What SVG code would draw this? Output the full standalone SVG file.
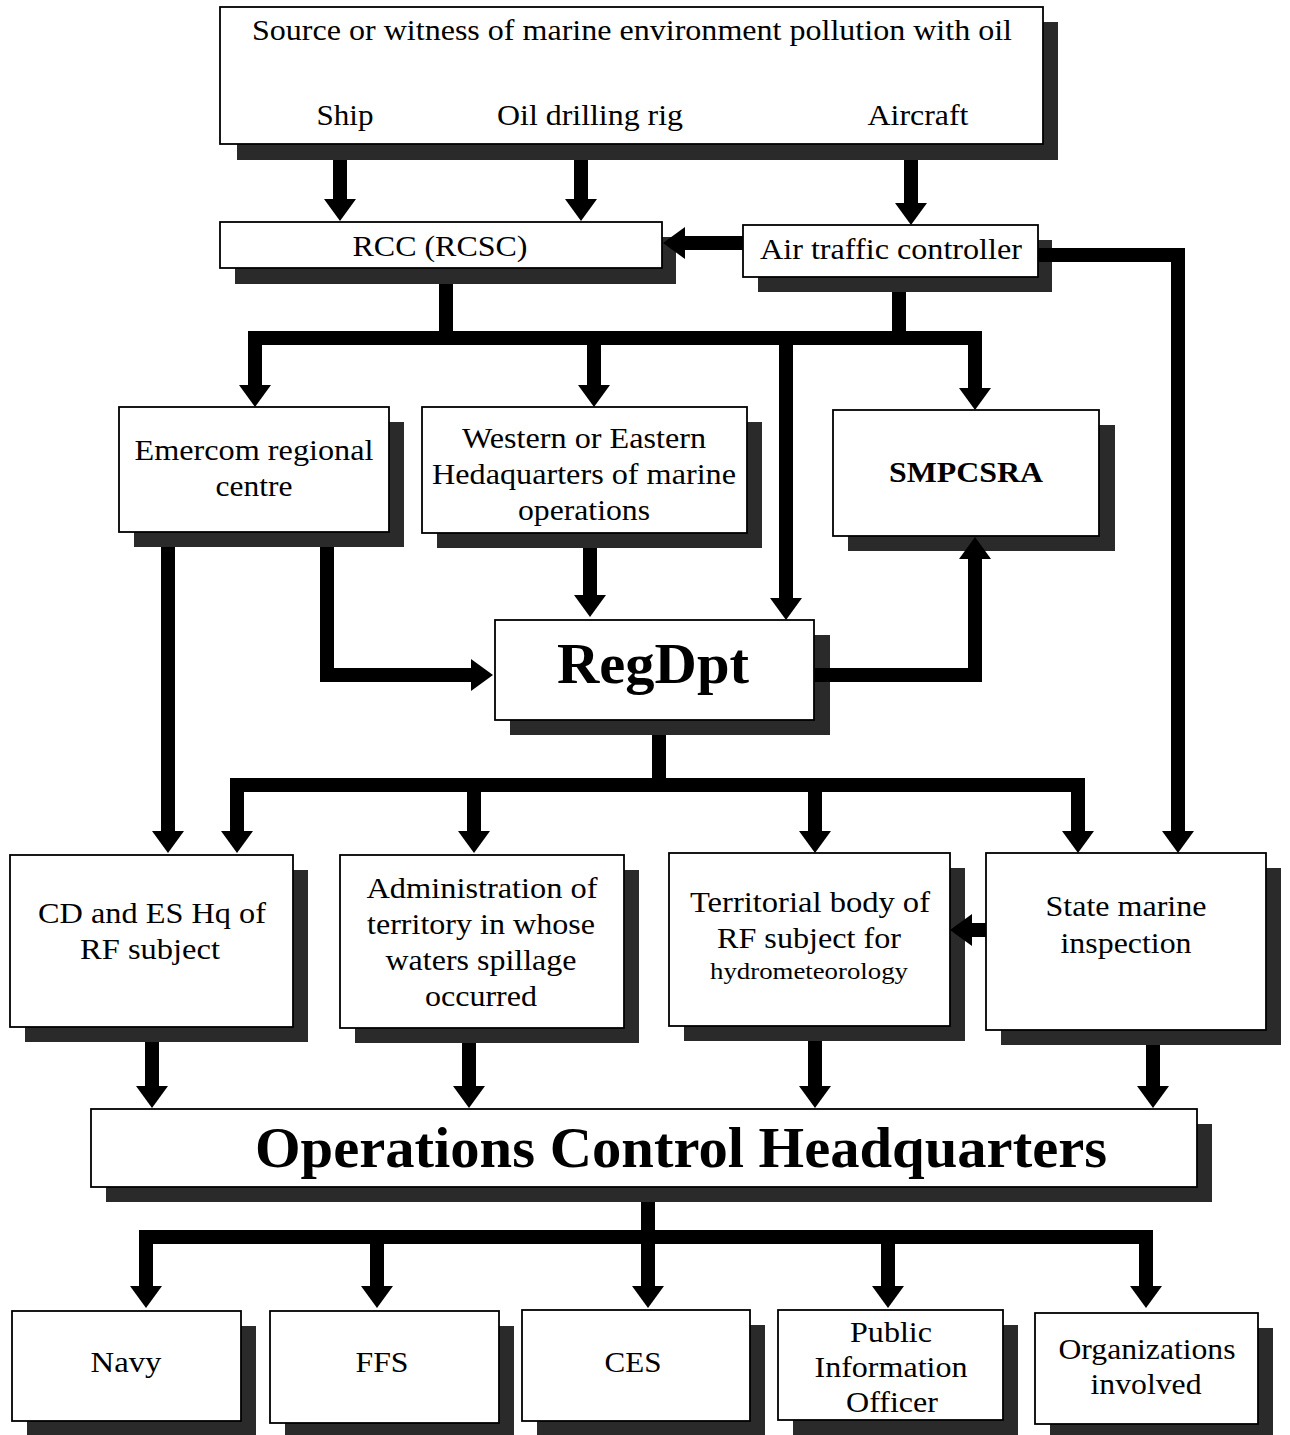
<svg xmlns="http://www.w3.org/2000/svg" width="1290" height="1435" viewBox="0 0 1290 1435">
<defs>
<style>
.sh{fill:#2a2a2a}
.bx{fill:#fff;stroke:#000;stroke-width:1.8}
.t{font-family:"Liberation Serif","Times New Roman",serif;font-size:29px;fill:#000;text-anchor:middle}
.b{font-weight:bold}
.c{fill:none;stroke:#000;stroke-width:14;stroke-linejoin:miter}
.a{marker-end:url(#ah)}
</style>
<marker id="ah" viewBox="0 0 22 32" markerWidth="22" markerHeight="32" refX="0" refY="16" orient="auto" markerUnits="userSpaceOnUse">
<path d="M0,0 L22,16 L0,32 Z" fill="#000"/>
</marker>
</defs>
<rect width="1290" height="1435" fill="#fff"/>

<g id="source">
<rect class="sh" x="237" y="22" width="821" height="138"/>
<rect class="bx" x="220" y="7" width="823" height="137"/>
<text class="t" x="632" y="40" textLength="760" lengthAdjust="spacingAndGlyphs">Source or witness of marine environment pollution with oil</text>
<text class="t" x="345" y="125" textLength="57" lengthAdjust="spacingAndGlyphs">Ship</text>
<text class="t" x="590" y="125" textLength="186" lengthAdjust="spacingAndGlyphs">Oil drilling rig</text>
<text class="t" x="918" y="125" textLength="101" lengthAdjust="spacingAndGlyphs">Aircraft</text>
</g>

<g id="rcc">
<rect class="sh" x="235" y="237" width="441" height="47"/>
<rect class="bx" x="220" y="222" width="442" height="46"/>
<text class="t" x="440" y="256" textLength="175" lengthAdjust="spacingAndGlyphs">RCC (RCSC)</text>
</g>

<g id="atc">
<rect class="sh" x="758" y="240" width="294" height="52"/>
<rect class="bx" x="743" y="225" width="295" height="52"/>
<text class="t" x="891" y="259" textLength="262" lengthAdjust="spacingAndGlyphs">Air traffic controller</text>
</g>

<g id="emercom">
<rect class="sh" x="134" y="422" width="270" height="125"/>
<rect class="bx" x="119" y="407" width="270" height="125"/>
<text class="t" x="254" y="460" textLength="239" lengthAdjust="spacingAndGlyphs">Emercom regional</text>
<text class="t" x="254" y="496" textLength="77" lengthAdjust="spacingAndGlyphs">centre</text>
</g>

<g id="western">
<rect class="sh" x="437" y="422" width="325" height="126"/>
<rect class="bx" x="422" y="407" width="325" height="126"/>
<text class="t" x="584" y="448" textLength="244" lengthAdjust="spacingAndGlyphs">Western or Eastern</text>
<text class="t" x="584" y="484" textLength="304" lengthAdjust="spacingAndGlyphs">Hedaquarters of marine</text>
<text class="t" x="584" y="520" textLength="132" lengthAdjust="spacingAndGlyphs">operations</text>
</g>

<g id="smpcsra">
<rect class="sh" x="848" y="425" width="267" height="126"/>
<rect class="bx" x="833" y="410" width="266" height="126"/>
<text class="t b" x="966" y="482" textLength="154" lengthAdjust="spacingAndGlyphs">SMPCSRA</text>
</g>

<g id="regdpt">
<rect class="sh" x="510" y="635" width="320" height="100"/>
<rect class="bx" x="495" y="620" width="319" height="100"/>
<text class="t b" x="653" y="683" style="font-size:56px" textLength="192" lengthAdjust="spacingAndGlyphs">RegDpt</text>
</g>

<g id="cdes">
<rect class="sh" x="25" y="870" width="283" height="172"/>
<rect class="bx" x="10" y="855" width="283" height="172"/>
<text class="t" x="152" y="923" textLength="228" lengthAdjust="spacingAndGlyphs">CD and ES Hq of</text>
<text class="t" x="150" y="959" textLength="140" lengthAdjust="spacingAndGlyphs">RF subject</text>
</g>

<g id="admin">
<rect class="sh" x="355" y="870" width="284" height="173"/>
<rect class="bx" x="340" y="855" width="284" height="173"/>
<text class="t" x="482" y="898" textLength="231" lengthAdjust="spacingAndGlyphs">Administration of</text>
<text class="t" x="481" y="934" textLength="228" lengthAdjust="spacingAndGlyphs">territory in whose</text>
<text class="t" x="481" y="970" textLength="191" lengthAdjust="spacingAndGlyphs">waters spillage</text>
<text class="t" x="481" y="1006" textLength="112" lengthAdjust="spacingAndGlyphs">occurred</text>
</g>

<g id="territorial">
<rect class="sh" x="684" y="868" width="281" height="173"/>
<rect class="bx" x="669" y="853" width="281" height="173"/>
<text class="t" x="810" y="912" textLength="240" lengthAdjust="spacingAndGlyphs">Territorial body of</text>
<text class="t" x="809" y="948" textLength="184" lengthAdjust="spacingAndGlyphs">RF subject for</text>
<text class="t" x="809" y="979" style="font-size:23px" textLength="198" lengthAdjust="spacingAndGlyphs">hydrometeorology</text>
</g>

<g id="statemarine">
<rect class="sh" x="1001" y="868" width="280" height="177"/>
<rect class="bx" x="986" y="853" width="280" height="177"/>
<text class="t" x="1126" y="916" textLength="161" lengthAdjust="spacingAndGlyphs">State marine</text>
<text class="t" x="1126" y="953" textLength="131" lengthAdjust="spacingAndGlyphs">inspection</text>
</g>

<g id="och">
<rect class="sh" x="106" y="1124" width="1106" height="78"/>
<rect class="bx" x="91" y="1109" width="1106" height="78"/>
<text class="t b" x="681" y="1167" style="font-size:56px" textLength="852" lengthAdjust="spacingAndGlyphs">Operations Control Headquarters</text>
</g>

<g id="navy">
<rect class="sh" x="27" y="1326" width="229" height="110"/>
<rect class="bx" x="12" y="1311" width="229" height="110"/>
<text class="t" x="126" y="1372" textLength="71" lengthAdjust="spacingAndGlyphs">Navy</text>
</g>

<g id="ffs">
<rect class="sh" x="285" y="1326" width="229" height="112"/>
<rect class="bx" x="270" y="1311" width="229" height="112"/>
<text class="t" x="382" y="1372" textLength="53" lengthAdjust="spacingAndGlyphs">FFS</text>
</g>

<g id="ces">
<rect class="sh" x="537" y="1325" width="228" height="111"/>
<rect class="bx" x="522" y="1310" width="228" height="111"/>
<text class="t" x="633" y="1372" textLength="57" lengthAdjust="spacingAndGlyphs">CES</text>
</g>

<g id="pio">
<rect class="sh" x="793" y="1325" width="225" height="110"/>
<rect class="bx" x="778" y="1310" width="225" height="110"/>
<text class="t" x="891" y="1342" textLength="82" lengthAdjust="spacingAndGlyphs">Public</text>
<text class="t" x="891" y="1377" textLength="153" lengthAdjust="spacingAndGlyphs">Information</text>
<text class="t" x="892" y="1412" textLength="92" lengthAdjust="spacingAndGlyphs">Officer</text>
</g>

<g id="orgs">
<rect class="sh" x="1050" y="1328" width="223" height="107"/>
<rect class="bx" x="1035" y="1313" width="223" height="111"/>
<text class="t" x="1147" y="1359" textLength="177" lengthAdjust="spacingAndGlyphs">Organizations</text>
<text class="t" x="1146" y="1394" textLength="111" lengthAdjust="spacingAndGlyphs">involved</text>
</g>

<g id="connectors">
<path class="c a" d="M340,160 V199"/>
<path class="c a" d="M581,160 V199"/>
<path class="c a" d="M911,160 V203"/>
<path class="c a" d="M743,243 H685"/>
<path class="c a" d="M1038,255 H1178 V831"/>
<path class="c" d="M446,284 V338"/>
<path class="c" d="M899,292 V338"/>
<path class="c" d="M248,338 H982"/>
<path class="c a" d="M255,338 V385"/>
<path class="c a" d="M975,338 V388"/>
<path class="c a" d="M594,338 V385"/>
<path class="c a" d="M786,345 V598"/>
<path class="c a" d="M168,547 V831"/>
<path class="c a" d="M327,547 V675 H471"/>
<path class="c a" d="M590,548 V595"/>
<path class="c a" d="M814,675 H975 V559"/>
<path class="c" d="M659,735 V785"/>
<path class="c" d="M230,785 H1085"/>
<path class="c a" d="M237,785 V831"/>
<path class="c a" d="M1078,785 V831"/>
<path class="c a" d="M474,785 V831"/>
<path class="c a" d="M815,785 V831"/>
<path class="c a" d="M986,930 H972"/>
<path class="c a" d="M152,1042 V1086"/>
<path class="c a" d="M469,1043 V1086"/>
<path class="c a" d="M815,1041 V1086"/>
<path class="c a" d="M1153,1045 V1086"/>
<path class="c a" d="M648,1202 V1286"/>
<path class="c" d="M139,1237 H1153"/>
<path class="c a" d="M146,1237 V1286"/>
<path class="c a" d="M1146,1237 V1286"/>
<path class="c a" d="M377,1237 V1286"/>
<path class="c a" d="M888,1237 V1286"/>
</g>
</svg>
